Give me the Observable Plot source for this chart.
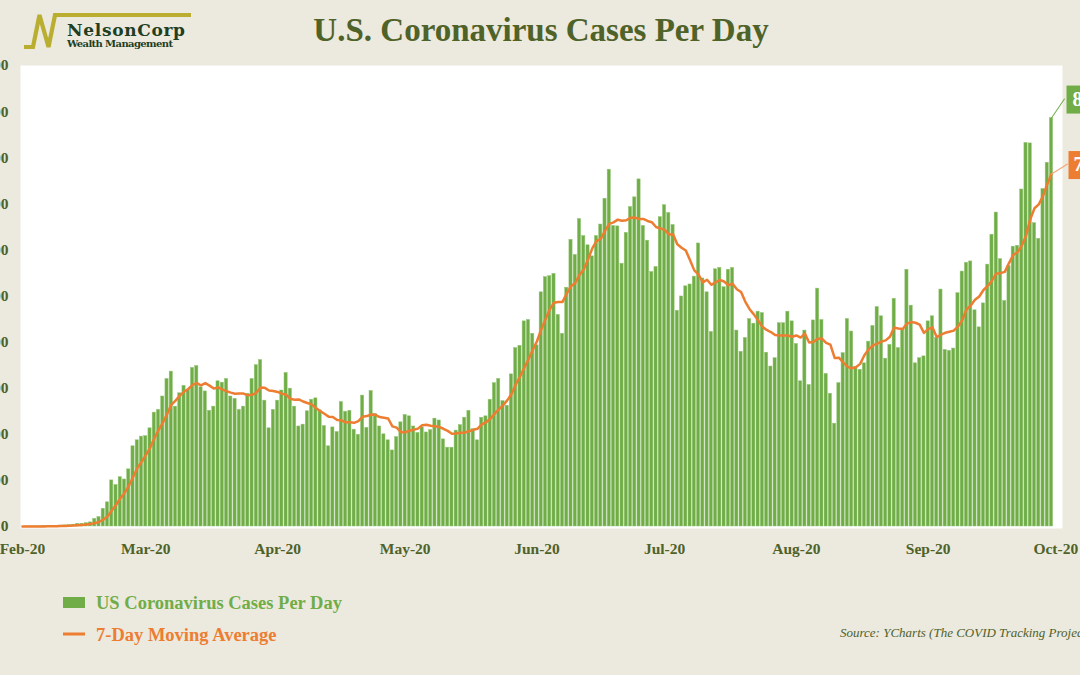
<!DOCTYPE html>
<html>
<head>
<meta charset="utf-8">
<script src="https://cdn.jsdelivr.net/npm/d3@7"></script>
<script src="https://cdn.jsdelivr.net/npm/@observablehq/plot@0.6"></script>
<style>
  html, body { margin: 0; padding: 0; background: #ECE9DF; }
  #wrap { position: relative; width: 1080px; height: 675px; overflow: hidden; background: #ECE9DF; }
  #chart { position: absolute; left: 0; top: 0; }
  #header, #footer { position: absolute; left: 0; }
  #header { top: 0; }
  #footer { top: 580px; }
</style>
</head>
<body>
<div id="wrap">
  <div id="chart"></div>
  <svg id="header" width="1080" height="60"></svg>
  <svg id="footer" width="1080" height="80"></svg>
</div>
<script>
// ---------- data ----------
const title = "U.S. Coronavirus Cases Per Day";
const seriesNames = ["US Coronavirus Cases Per Day", "7-Day Moving Average"];
const seriesColors = ["#70AD47", "#ED7D31"];
const sourceText = "Source: YCharts (The COVID Tracking Project)";
const logoName = "NelsonCorp";
const logoSub = "Wealth Management";
const startDate = "2020-02-01";
const monthTicks = ["2020-02-01","2020-03-01","2020-04-01","2020-05-01","2020-06-01",
                    "2020-07-01","2020-08-01","2020-09-01","2020-10-01"];
const yTicks = [0,10000,20000,30000,40000,50000,60000,70000,80000,90000,100000];
const cases = [
  0,10,20,20,30,60,80,100,120,200,250,300,400,
  580,600,720,900,1650,2050,3850,5250,10000,9000,10700,10200,12400,17400,18700,19500,19600,
  21300,24700,25300,28200,32000,33600,26000,28900,30500,29600,34400,34800,30200,29300,25100,
  26000,31500,31200,32000,28200,27700,25300,26000,28800,32000,35000,36100,27300,21300,25300,
  27300,29500,33300,29900,26000,21700,22100,25000,27500,27800,25200,21800,17400,21500,20500,
  27000,24900,25100,21000,19900,28400,21400,29400,24400,21700,20000,18700,16500,19400,22600,
  24200,23900,21700,20300,21500,20400,20900,23400,23000,18900,17100,17100,20800,22000,23600,
  25100,21100,18700,23600,23900,27500,31100,32000,27200,26200,33000,38700,39200,44500,44800,
  41800,39300,50800,54100,54300,54800,45900,41800,51800,62200,58900,66700,63000,61000,58600,
  63000,65500,71100,77400,65200,65100,57000,63700,69300,71400,75300,65200,62000,55200,56300,
  67100,69700,68000,65400,46800,49900,52100,52500,54200,61400,53800,50800,42200,55800,56100,
  51900,55700,56100,42500,37900,40900,45000,44000,46600,46300,37700,34700,36500,44100,44100,
  46600,44500,39600,31500,42500,30700,44700,51600,44800,33100,28800,22300,31100,37600,45000,
  42300,34600,34000,35400,40100,43500,47600,45600,36400,39400,49400,38700,42900,55700,47900,
  35400,36500,36900,44500,45600,40900,51400,38300,38100,38600,50600,55300,57200,57500,46900,
  43200,48400,56800,63300,68100,58000,48900,56500,60700,60900,73100,83200,83100,65800,62400,
  73200,78900,88600
];

// ---------- build table ----------
const start = new Date(startDate + "T00:00:00Z");
const data = cases.map((v, i) => ({date: d3.utcDay.offset(start, i), cases: v}));
const last = data[data.length - 1];
const lastAvg = d3.mean(cases.slice(-7));
const fmt = d3.format(",");
const ink = "#4F6228";

const chart = Plot.plot({
  width: 1080,
  height: 675,
  marginLeft: 20,
  marginRight: 18,
  marginTop: 65,
  marginBottom: 147,
  style: {
    background: "transparent",
    fontFamily: "'Liberation Serif', 'Times New Roman', serif",
    fontWeight: "bold",
    fontSize: "15.5px",
    color: ink,
    overflow: "visible"
  },
  x: {
    type: "utc",
    domain: [d3.utcHour.offset(start, -11), d3.utcHour.offset(start, 244.6 * 24)],
    ticks: monthTicks.map(d => new Date(d + "T00:00:00Z")),
    tickFormat: d3.utcFormat("%b-%y"),
    tickSize: 0,
    tickPadding: 14,
    label: null
  },
  y: {
    domain: [0, 100000],
    insetBottom: 2,
    ticks: yTicks,
    tickFormat: fmt,
    tickSize: 0,
    tickPadding: 12,
    label: null
  },
  marks: [
    Plot.frame({fill: "white", stroke: "none"}),
    Plot.rectY(data, {
      x1: d => d3.utcHour.offset(d.date, -9),
      x2: d => d3.utcHour.offset(d.date, 9),
      y: "cases",
      fill: seriesColors[0],
      stroke: "#94C677",
      strokeWidth: 0.5
    }),
    Plot.lineY(data, Plot.windowY({k: 7, anchor: "end", x: "date", y: "cases",
      stroke: seriesColors[1], strokeWidth: 2.5})),
    // callouts
    Plot.vector([last], {x: "date", y: "cases", length: 23, rotate: 34, anchor: "start",
      shape: {draw(ctx, l) { ctx.moveTo(0, 0); ctx.lineTo(0, -l); }},
      stroke: seriesColors[0], strokeWidth: 1}),
    Plot.dot([last], {x: "date", y: "cases", symbol: "square", r: 15.8, fill: seriesColors[0],
      dx: 29, dy: -18.5}),
    Plot.text([last], {x: "date", y: "cases", text: d => fmt(d.cases), fill: "white",
      textAnchor: "start", dx: 21, dy: -18.5, fontSize: 20}),
    Plot.vector([{date: last.date, v: lastAvg}], {x: "date", y: "v", length: 19, rotate: 58, anchor: "start",
      shape: {draw(ctx, l) { ctx.moveTo(0, 0); ctx.lineTo(0, -l); }},
      stroke: "#F4A675", strokeWidth: 1}),
    Plot.dot([{date: last.date, v: lastAvg}], {x: "date", y: "v", symbol: "square", r: 15.8,
      fill: seriesColors[1], dx: 31, dy: -9}),
    Plot.text([{date: last.date, v: lastAvg}], {x: "date", y: "v", text: d => fmt(Math.round(d.v)),
      fill: "white", textAnchor: "start", dx: 22, dy: -9, fontSize: 20})
  ]
});
document.getElementById("chart").appendChild(chart);

// ---------- header: logo + title ----------
const header = d3.select("#header");
header.append("polyline")
  .attr("points", "24,47 33,47 39.5,15 48.5,47 55,15 191,15")
  .attr("fill", "none").attr("stroke", "#B9AE2F").attr("stroke-width", 4.2)
  .attr("stroke-linejoin", "miter");
header.append("text").text(logoName)
  .attr("x", 67).attr("y", 36)
  .attr("font-family", "'DejaVu Serif', serif").attr("font-weight", "bold")
  .attr("font-size", 17).attr("fill", "#1F3E22").attr("textLength", 118);
header.append("text").text(logoSub)
  .attr("x", 67).attr("y", 47)
  .attr("font-family", "'DejaVu Serif', serif").attr("font-weight", "bold")
  .attr("font-size", 10).attr("fill", "#1F3E22").attr("textLength", 106);
header.append("text").text(title)
  .attr("x", 541).attr("y", 41).attr("text-anchor", "middle")
  .attr("font-family", "'Liberation Serif', 'Times New Roman', serif").attr("font-weight", "bold")
  .attr("font-size", 33).attr("fill", ink);

// ---------- footer: legend + source ----------
const footer = d3.select("#footer");
footer.append("rect").attr("x", 63).attr("y", 17).attr("width", 22).attr("height", 11)
  .attr("fill", seriesColors[0]);
footer.append("text").text(seriesNames[0]).attr("x", 96).attr("y", 28.5)
  .attr("font-family", "'Liberation Serif', serif").attr("font-weight", "bold")
  .attr("font-size", 18.5).attr("fill", seriesColors[0]);
footer.append("line").attr("x1", 63).attr("x2", 85).attr("y1", 54).attr("y2", 54)
  .attr("stroke", seriesColors[1]).attr("stroke-width", 3);
footer.append("text").text(seriesNames[1]).attr("x", 96).attr("y", 60.5)
  .attr("font-family", "'Liberation Serif', serif").attr("font-weight", "bold")
  .attr("font-size", 18.5).attr("fill", seriesColors[1]);
footer.append("text").text(sourceText).attr("x", 840).attr("y", 57)
  .attr("font-family", "'Liberation Serif', serif").attr("font-style", "italic")
  .attr("font-size", 13).attr("fill", ink);
</script>
</body>
</html>
